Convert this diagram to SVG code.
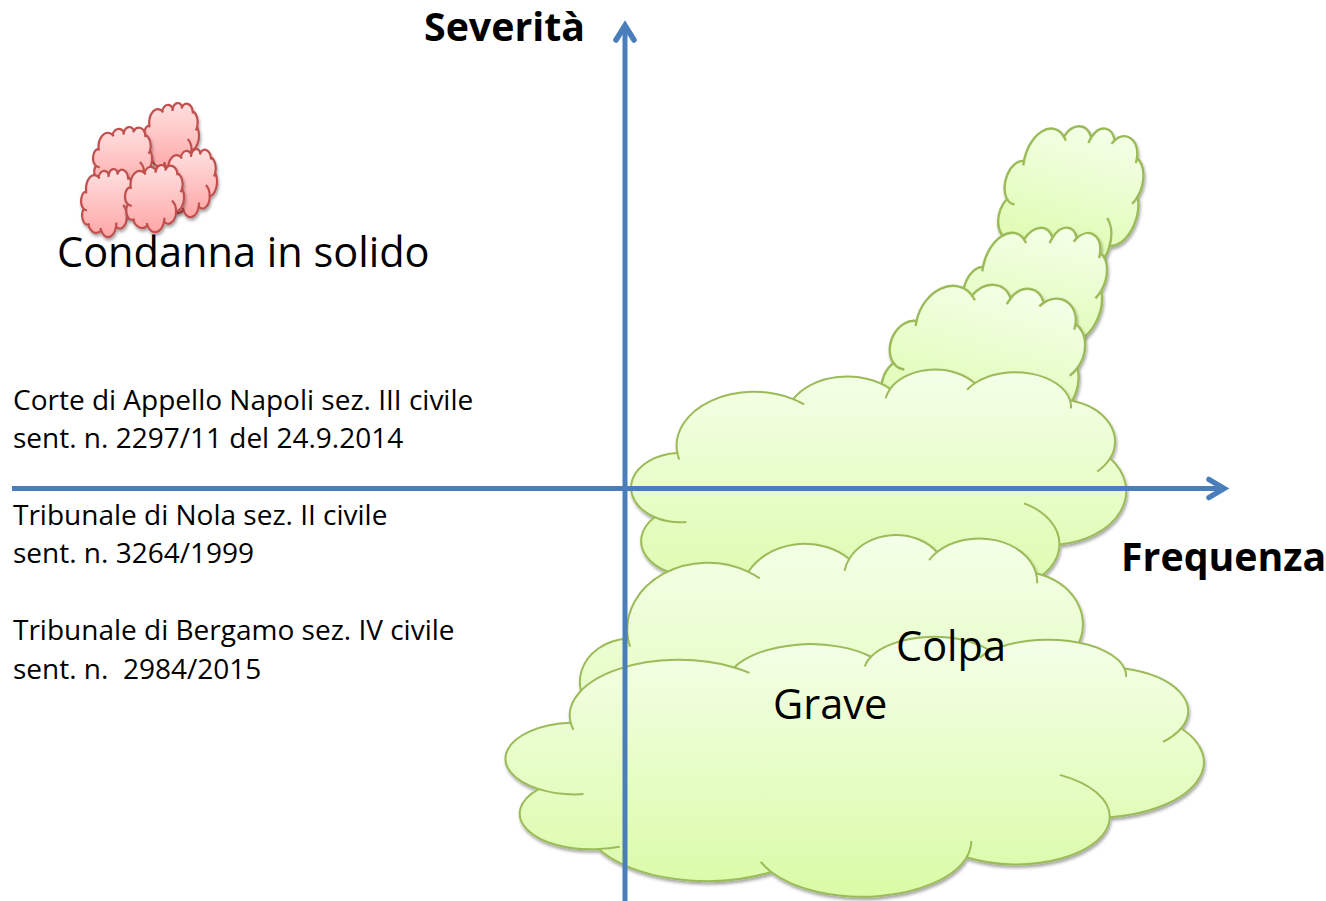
<svg xmlns="http://www.w3.org/2000/svg" xmlns:xlink="http://www.w3.org/1999/xlink" width="1326" height="901" viewBox="0 0 1326 901">
  <style>
    text { font-family: "Open Sans", "Noto Sans", sans-serif; fill: #000; }
    .green { fill: url(#greenFill); stroke: #9BBB59; }
    .red { fill: url(#redFill); stroke: #C0504D; }
    .big { stroke-width: 2; }
    .mid { stroke-width: 2.4; }
    .small { stroke-width: 2.2; }
    .outline { vector-effect: non-scaling-stroke; }
    .ribs { fill: none; vector-effect: non-scaling-stroke; }
    .axis { fill: none; stroke: #4A7EBB; stroke-width: 5; }
    .head { fill: none; stroke: #4A7EBB; stroke-width: 5.5; stroke-linecap: round; stroke-linejoin: miter; }
    .axis-title { font-size: 39.300px; font-weight: 700; }
    .note { font-size: 28px; }
    .big-label { font-size: 41.500px; }
  </style>
  <defs>
    <linearGradient id="greenFill" x1="0" y1="0" x2="0" y2="1">
      <stop offset="0" stop-color="#F4FFE8"/>
      <stop offset="1" stop-color="#DAFBA6"/>
    </linearGradient>
    <linearGradient id="redFill" x1="0" y1="0" x2="0" y2="1">
      <stop offset="0" stop-color="#FFE0E0"/>
      <stop offset="1" stop-color="#FFA6A6"/>
    </linearGradient>
    <filter id="lift" x="-15%" y="-15%" width="130%" height="130%">
      <feDropShadow dx="1" dy="2.5" stdDeviation="1.6" flood-color="#000" flood-opacity="0.35"/>
    </filter>
    <!-- Cloud outline on a 43200 unit grid, placed with a matrix for each node -->
    <g id="cloud">
      <path class="outline" d="M3900 14370A6753 9190 0 0 1 14005 5203A5333 7267 0 0 1 22456 3433A4365 5945 0 0 1 29833 2482A4857 5945 0 0 1 38132 5392A5333 7267 0 0 1 41633 15270A6775 9220 0 0 1 37219 30013A5785 7867 0 0 1 28370 36623A6752 9215 0 0 1 16293 39071A7720 10543 0 0 1 5617 35278A4360 5918 0 0 1 1926 25355A4345 5945 0 0 1 3900 14370Z"/>
      <path class="ribs" d="M4693 26177A4345 5945 0 0 1 1926 25355M6928 34899A4360 5918 0 0 1 5617 35278M16293 39071A6752 9215 0 0 1 15646 37407M28659 33951A6752 9215 0 0 1 28370 36623M34128 22988A5785 7867 0 0 1 37219 30013M41633 15270A5333 7267 0 0 1 40504 17541M38132 5392A4857 5945 0 0 1 38223 6764M29163 3585A4857 5945 0 0 1 29833 2482M22063 5054A4365 5945 0 0 1 22456 3433M14005 5203A6753 9190 0 0 1 14950 6100M4068 15511A6753 9190 0 0 1 3900 14370"/>
    </g>
  </defs>

  <g id="cloud-solido-1" class="red small" filter="url(#lift)"><use href="#cloud" transform="matrix(.00127 0 0 .00158 144.3 102.8)"/></g>
  <g id="cloud-solido-2" class="red small" filter="url(#lift)"><use href="#cloud" transform="matrix(.001364 0 0 .001534 93.3 126.8)"/></g>
  <g id="cloud-solido-3" class="red small" filter="url(#lift)"><use href="#cloud" transform="matrix(.001248 0 0 .00158 163.3 148.8)"/></g>
  <g id="cloud-solido-4" class="red small" filter="url(#lift)"><use href="#cloud" transform="matrix(.001225 0 0 .00158 81.3 168.8)"/></g>
  <g id="cloud-solido-5" class="red small" filter="url(#lift)"><use href="#cloud" transform="matrix(.001364 0 0 .001557 125.3 164.8)"/></g>

  <g id="cloud-tail-1" class="green mid" filter="url(#lift)"><use href="#cloud" transform="matrix(.003038 .00086 -.001 .003614 1026.5 105.7)"/></g>
  <g id="cloud-tail-2" class="green mid" filter="url(#lift)"><use href="#cloud" transform="matrix(.00316 .00054 -.001 .003614 985 213)"/></g>
  <g id="cloud-tail-3" class="green mid" filter="url(#lift)"><use href="#cloud" transform="matrix(.0043 .001145 -.00132 .00403 918.7 258.6)"/></g>
  <g id="cloud-upper" class="green big" filter="url(#lift)"><use href="#cloud" transform="matrix(.01147 0 0 .00586 632.6 368.7)"/></g>
  <g id="cloud-middle" class="green big" filter="url(#lift)"><use href="#cloud" transform="matrix(.01192 0 0 .00727 581.5 534)"/></g>
  <g id="cloud-lower" class="green big" filter="url(#lift)"><use href="#cloud" transform="matrix(.01618 0 0 .00604 507.6 636)"/></g>

  <g id="connectors">
    <path id="axis-severita" class="axis" d="M625 901V28"/>
    <path class="head" d="M616 40L625 25.500L634 40"/>
    <path id="axis-frequenza" class="axis" d="M12 488.500H1222"/>
    <path class="head" d="M1209 479.500L1224 488.500L1209 497.500"/>
  </g>

  <g id="labels">
    <text class="axis-title" x="424" y="41">Severità</text>
    <text class="axis-title" x="1121" y="571">Frequenza</text>
    <text class="big-label" x="57" y="267">Condanna in solido</text>
    <text class="note" x="13" y="410">Corte di Appello Napoli sez. III civile</text>
    <text class="note" x="13" y="448">sent. n. 2297/11 del 24.9.2014</text>
    <text class="note" x="13" y="525">Tribunale di Nola sez. II civile</text>
    <text class="note" x="13" y="563">sent. n. 3264/1999</text>
    <text class="note" x="13" y="640">Tribunale di Bergamo sez. IV civile</text>
    <text class="note" x="13" y="679" xml:space="preserve">sent. n.  2984/2015</text>
    <text class="big-label" x="896" y="661">Colpa</text>
    <text class="big-label" x="773" y="719">Grave</text>
  </g>
</svg>
